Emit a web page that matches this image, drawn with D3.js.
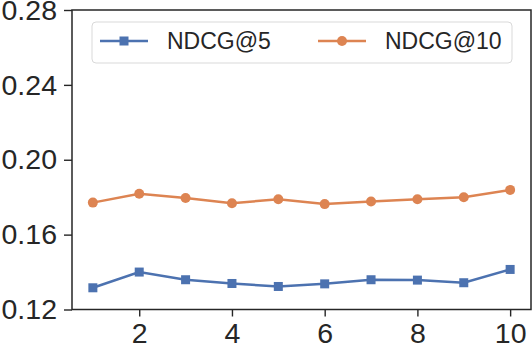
<!DOCTYPE html>
<html>
<head>
<meta charset="utf-8">
<script src="https://cdn.jsdelivr.net/npm/d3@7"></script>
<style>
  body { margin: 0; background: #fff; }
  text { font-family: "Liberation Sans", Arial, sans-serif; fill: #262626; }
</style>
</head>
<body>
<script>
// Data
var xs = [1, 2, 3, 4, 5, 6, 7, 8, 9, 10];
var ndcg5 = [0.1316, 0.1400, 0.1359, 0.1339, 0.1323, 0.1337, 0.1359, 0.1357, 0.1343, 0.1414];
var ndcg10 = [0.1771, 0.1818, 0.1796, 0.1768, 0.1789, 0.1763, 0.1777, 0.1789, 0.1800, 0.1839];
var xTicks = [2, 4, 6, 8, 10];
var yTicks = [0.12, 0.16, 0.20, 0.24, 0.28];

var width = 532, height = 350;
var margin = { top: 10, right: 1, bottom: 40.5, left: 72 };

var svg = d3.select("body").append("svg")
    .attr("width", width)
    .attr("height", height);

var x = d3.scaleLinear()
    .domain([0.55, 10.45])
    .range([margin.left, width - margin.right]);

var y = d3.scaleLinear()
    .domain([0.12, 0.28])
    .range([height - margin.bottom, margin.top]);

// Axes
var xAxis = svg.append("g")
    .attr("transform", "translate(0," + (height - margin.bottom) + ")")
    .call(d3.axisBottom(x).tickValues(xTicks).tickSize(7).tickPadding(6).tickFormat(d3.format("d")));

var yAxis = svg.append("g")
    .attr("transform", "translate(" + margin.left + ",0)")
    .call(d3.axisLeft(y).tickValues(yTicks).tickSize(8).tickPadding(7).tickFormat(d3.format(".2f")));

[xAxis, yAxis].forEach(function (a) {
    a.select(".domain").remove();
    a.selectAll(".tick line").attr("stroke", "#262626").attr("stroke-width", 1.4);
    a.selectAll(".tick text").style("font-size", "28.5px").attr("fill", "#262626");
});

// Frame
svg.append("rect")
    .attr("x", x.range()[0])
    .attr("y", y.range()[1])
    .attr("width", x.range()[1] - x.range()[0])
    .attr("height", y.range()[0] - y.range()[1])
    .attr("fill", "none")
    .attr("stroke", "#262626")
    .attr("stroke-width", 1.5);

var series = [
    { name: "NDCG@5", values: ndcg5, color: "#4c72b0", marker: "square" },
    { name: "NDCG@10", values: ndcg10, color: "#dd8452", marker: "circle" }
];

var line = d3.line()
    .x(function (d) { return x(d[0]); })
    .y(function (d) { return y(d[1]); });

function drawMarker(g, m, color, cx, cy) {
    if (m === "square") {
        g.append("rect")
            .attr("x", cx - 4.5).attr("y", cy - 4.5)
            .attr("width", 9).attr("height", 9)
            .attr("fill", color);
    } else {
        g.append("circle")
            .attr("cx", cx).attr("cy", cy).attr("r", 5)
            .attr("fill", color);
    }
}

series.forEach(function (s) {
    var pts = xs.map(function (v, i) { return [v, s.values[i]]; });
    var g = svg.append("g");
    g.append("path")
        .attr("d", line(pts))
        .attr("fill", "none")
        .attr("stroke", s.color)
        .attr("stroke-width", 2.5);
    pts.forEach(function (p) {
        drawMarker(g, s.marker, s.color, x(p[0]), y(p[1]));
    });
});

// Legend
var legend = svg.append("g");
legend.append("rect")
    .attr("x", 92).attr("y", 22)
    .attr("width", 420).attr("height", 41)
    .attr("rx", 4)
    .attr("fill", "#fff")
    .attr("fill-opacity", 0.8)
    .attr("stroke", "#d9d9d9")
    .attr("stroke-width", 1);

var legendX = [100, 318];
series.forEach(function (s, i) {
    var lx = legendX[i];
    legend.append("line")
        .attr("x1", lx).attr("x2", lx + 48)
        .attr("y1", 41).attr("y2", 41)
        .attr("stroke", s.color)
        .attr("stroke-width", 2.5);
    drawMarker(legend, s.marker, s.color, lx + 24, 41);
    legend.append("text")
        .attr("x", lx + 67)
        .attr("y", 49)
        .style("font-size", "23px")
        .text(s.name);
});
</script>
</body>
</html>
